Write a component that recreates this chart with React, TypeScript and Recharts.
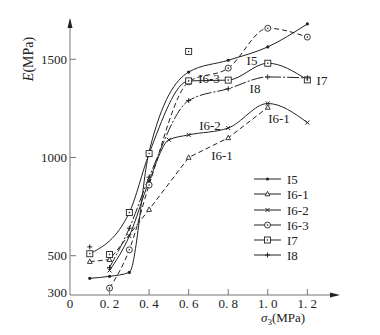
import React from "react";
import { LineChart, Line, XAxis, YAxis } from "recharts";

const sigmaI5 = [0.1, 0.2, 0.3, 0.4, 0.6, 0.8, 1.0, 1.2];
const eI5 = [385, 395, 415, 1030, 1435, 1495, 1563, 1680];

const sigmaI61 = [0.1, 0.2, 0.4, 0.6, 0.8, 1.0];
const eI61 = [470, 480, 735, 1000, 1100, 1255];

const sigmaI62 = [0.2, 0.3, 0.4, 0.5, 0.6, 0.8, 1.0, 1.2];
const eI62 = [425, 600, 880, 1090, 1115, 1150, 1275, 1178];

const sigmaI63 = [0.2, 0.3, 0.4, 0.6, 0.8, 1.0, 1.2];
const eI63 = [335, 530, 860, 1385, 1455, 1658, 1613];

const sigmaI7 = [0.1, 0.3, 0.4, 0.6, 0.8, 1.0, 1.2];
const eI7 = [510, 720, 1020, 1390, 1394, 1480, 1395];
const sigmaI7Extra = [0.2, 0.6];
const eI7Extra = [506, 1540];

const sigmaI8 = [0.2, 0.3, 0.4, 0.6, 0.8, 1.0, 1.2];
const eI8 = [440, 640, 900, 1290, 1350, 1410, 1405];
const sigmaI8Extra = [0.1];
const eI8Extra = [545];

const xTicks = [0, 0.2, 0.4, 0.6, 0.8, 1.0, 1.2];
const yTicks = [300, 500, 1000, 1500];
const legendNames = ["I5", "I6-1", "I6-2", "I6-3", "I7", "I8"];

const toPts = (xs: number[], ys: number[]) => xs.map((x, i) => ({ x, y: ys[i] }));

const INK = "#222";
const FONT = "'Liberation Serif', 'DejaVu Serif', serif";

type M = (cx: number, cy: number, k?: any) => React.ReactElement;
const mDot: M = (cx, cy, k) => <circle key={k} cx={cx} cy={cy} r={1.6} fill={INK} />;
const mTri: M = (cx, cy, k) => (
  <polygon key={k} points={`${cx},${cy - 2.6} ${cx - 2.4},${cy + 1.8} ${cx + 2.4},${cy + 1.8}`} fill="#fff" stroke={INK} strokeWidth={0.9} />
);
const mCross: M = (cx, cy, k) => (
  <g key={k} stroke={INK} strokeWidth={1}>
    <line x1={cx - 2} y1={cy - 2} x2={cx + 2} y2={cy + 2} />
    <line x1={cx - 2} y1={cy + 2} x2={cx + 2} y2={cy - 2} />
  </g>
);
const mCirc: M = (cx, cy, k) => (
  <g key={k}>
    <circle cx={cx} cy={cy} r={3} fill="#fff" stroke={INK} strokeWidth={0.9} />
    <circle cx={cx} cy={cy} r={0.8} fill={INK} />
  </g>
);
const mSq: M = (cx, cy, k) => (
  <g key={k}>
    <rect x={cx - 3} y={cy - 3} width={6} height={6} fill="#fff" stroke={INK} strokeWidth={0.9} />
    <circle cx={cx} cy={cy} r={0.8} fill={INK} />
  </g>
);
const mPlus: M = (cx, cy, k) => (
  <g key={k} stroke={INK} strokeWidth={1}>
    <line x1={cx - 2.5} y1={cy} x2={cx + 2.5} y2={cy} />
    <line x1={cx} y1={cy - 2.5} x2={cx} y2={cy + 2.5} />
  </g>
);
const markers = [mDot, mTri, mCross, mCirc, mSq, mPlus];

const dotFn = (m: M) => (p: any) => m(p.cx, p.cy, `${p.index}-${p.cx}`);

const textStyle = { fontFamily: FONT, fontSize: 13 };

const XTick = (p: any) => {
  const v = p.payload.value as number;
  const label = v === 0 ? "0" : v.toFixed(1).replace(".", ". ");
  return (
    <g>
      {v !== 0 && <line x1={p.x} y1={p.y} x2={p.x} y2={p.y - 6} stroke="#777" />}
      <text x={p.x} y={p.y + 13} textAnchor="middle" style={textStyle} fill={INK}>
        {label}
      </text>
    </g>
  );
};

const YTick = (p: any) => {
  const v = p.payload.value as number;
  return (
    <g>
      {v !== 300 && <line x1={p.x} y1={p.y} x2={p.x + 6} y2={p.y} stroke="#777" />}
      <text x={p.x - 3} y={v === 300 ? p.y + 2 : p.y + 4.5} textAnchor="end" style={textStyle} fill={INK}>
        {v}
      </text>
    </g>
  );
};

export default function App() {
  const series = [
    { name: "I5", data: toPts(sigmaI5, eI5), dash: undefined, m: mDot, type: "monotone" },
    { name: "I6-1", data: toPts(sigmaI61, eI61), dash: "5 3", m: mTri, type: "linear" },
    { name: "I6-2", data: toPts(sigmaI62, eI62), dash: undefined, m: mCross, type: "monotone" },
    { name: "I6-3", data: toPts(sigmaI63, eI63), dash: "5 3", m: mCirc, type: "monotone" },
    { name: "I7", data: toPts(sigmaI7, eI7), dash: undefined, m: mSq, type: "monotone" },
    { name: "I8", data: toPts(sigmaI8, eI8), dash: "12 2 2 2", m: mPlus, type: "monotone" },
  ];
  const legendRows = [179, 194, 210, 225, 240, 255];
  const annotations = [
    { t: "I5", x: 252, y: 60 },
    { t: "I6-3", x: 209, y: 78 },
    { t: "I7", x: 322, y: 80 },
    { t: "I8", x: 255, y: 88 },
    { t: "I6-2", x: 210, y: 125 },
    { t: "I6-1", x: 279, y: 118 },
    { t: "I6-1", x: 222, y: 155 },
  ];
  return (
    <div style={{ position: "absolute", left: 0, top: 0, width: 380, height: 335, background: "#fff", fontFamily: FONT }}>
      <LineChart width={380} height={335} margin={{ top: 20, right: 43, bottom: 0, left: 0 }}>
        <XAxis
          type="number"
          dataKey="x"
          domain={[0, 1.35]}
          ticks={xTicks}
          height={40}
          tickSize={0}
          tickMargin={0}
          tickLine={false}
          axisLine={{ stroke: "#777" }}
          tick={XTick}
          allowDataOverflow
        />
        <YAxis
          type="number"
          dataKey="y"
          domain={[300, 1700]}
          ticks={yTicks}
          width={70}
          tickSize={0}
          tickMargin={0}
          tickLine={false}
          axisLine={{ stroke: "#777" }}
          tick={YTick}
          allowDataOverflow
        />
        {series.map((s) => (
          <Line
            key={s.name}
            data={s.data}
            dataKey="y"
            type={s.type as any}
            stroke={INK}
            strokeWidth={1}
            strokeDasharray={s.dash}
            dot={dotFn(s.m)}
            activeDot={false}
            isAnimationActive={false}
          />
        ))}
        <Line
          data={toPts(sigmaI7Extra, eI7Extra)}
          dataKey="y"
          stroke="none"
          dot={dotFn(mSq)}
          activeDot={false}
          isAnimationActive={false}
        />
        <Line
          data={toPts(sigmaI8Extra, eI8Extra)}
          dataKey="y"
          stroke="none"
          dot={dotFn(mPlus)}
          activeDot={false}
          isAnimationActive={false}
        />
      </LineChart>
      <svg
        width={380}
        height={335}
        style={{ position: "absolute", left: 0, top: 0, pointerEvents: "none", fontFamily: FONT }}
      >
        <polygon points="70,18 67.5,28 72.5,28" fill={INK} />
        <polygon points="340,295 330,292.5 330,297.5" fill={INK} />
        <text transform="translate(33,59) rotate(-90)" textAnchor="middle" style={{ fontFamily: FONT, fontSize: 14 }} fill={INK}>
          <tspan fontStyle="italic">E</tspan>
          <tspan>(MPa)</tspan>
        </text>
        <text x={261} y={322} style={textStyle} fill={INK}>
          <tspan fontStyle="italic">σ</tspan>
          <tspan fontSize={9} dy={3}>3</tspan>
          <tspan dy={-3}>(MPa)</tspan>
        </text>
        {annotations.map((a, i) => (
          <text key={i} x={a.x} y={a.y + 4.5} textAnchor="middle" style={textStyle} fill={INK}>
            {a.t}
          </text>
        ))}
        {legendNames.map((n, i) => (
          <g key={n}>
            <line x1={254} y1={legendRows[i]} x2={281} y2={legendRows[i]} stroke={INK} strokeWidth={1} />
            {markers[i](267.5, legendRows[i])}
            <text x={287} y={legendRows[i] + 4.5} style={textStyle} fill={INK}>
              {n}
            </text>
          </g>
        ))}
      </svg>
    </div>
  );
}
